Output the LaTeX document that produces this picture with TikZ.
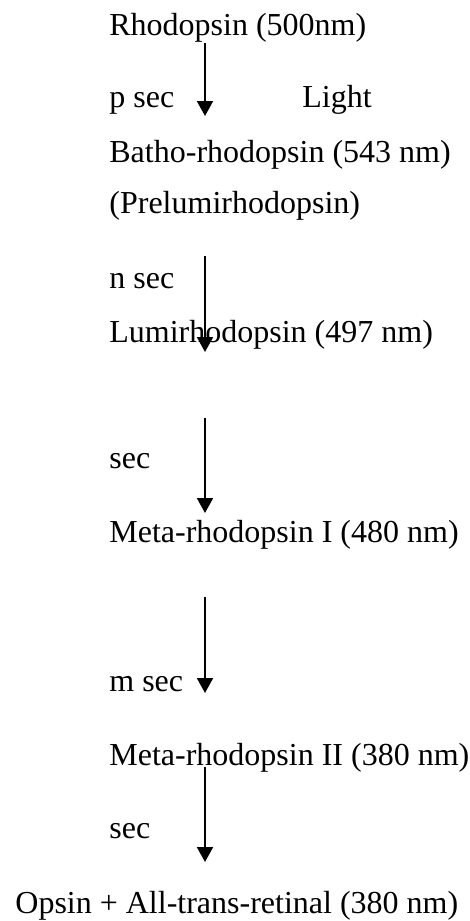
\documentclass[tikz,border=0pt]{standalone}
\usepackage{fontspec}
\setmainfont{Liberation Serif}
\usetikzlibrary{arrows.meta}
\tikzset{stage/.style={anchor=base west,inner sep=0pt,font=\fontsize{16}{19}\selectfont},
  react/.style={-{Triangle[length=7.5pt,width=8pt]},line width=1pt}}
\begin{document}
\begin{tikzpicture}[x=0.5pt,y=-0.5pt]
  \useasboundingbox (0,0) rectangle (470,921);
  \node[stage] (rho) at (109,35) {Rhodopsin (500nm)};
  \node[stage] (psec) at (109,107) {p sec};
  \node[stage] (light) at (302,107) {Light};
  \node[stage] (batho) at (109,162) {Batho-rhodopsin (543 nm)};
  \node[stage] (prelumi) at (109,213) {(Prelumirhodopsin)};
  \node[stage] (nsec) at (109,288) {n sec};
  \node[stage] (lumi) at (109,342) {Lumirhodopsin (497 nm)};
  \node[stage] (secA) at (109,468) {sec};
  \node[stage] (metaI) at (109,542) {Meta-rhodopsin I (480 nm)};
  \node[stage] (msec) at (109,691) {m sec};
  \node[stage] (metaII) at (109,765) {Meta-rhodopsin II (380 nm)};
  \node[stage] (secB) at (109,838) {sec};
  \node[stage] (opsin) at (15,913) {Opsin + All-trans-retinal (380 nm)};
  % arrow ends
  \coordinate (a1) at (205,43);  \coordinate (b1) at (205,116);
  \coordinate (a2) at (205,256); \coordinate (b2) at (205,352);
  \coordinate (a3) at (205,418); \coordinate (b3) at (205,513);
  \coordinate (a4) at (205,597); \coordinate (b4) at (205,693);
  \coordinate (a5) at (205,767); \coordinate (b5) at (205,862);
  \foreach \i in {1,...,5} \draw[react] (a\i) -- (b\i);
\end{tikzpicture}
\end{document}
